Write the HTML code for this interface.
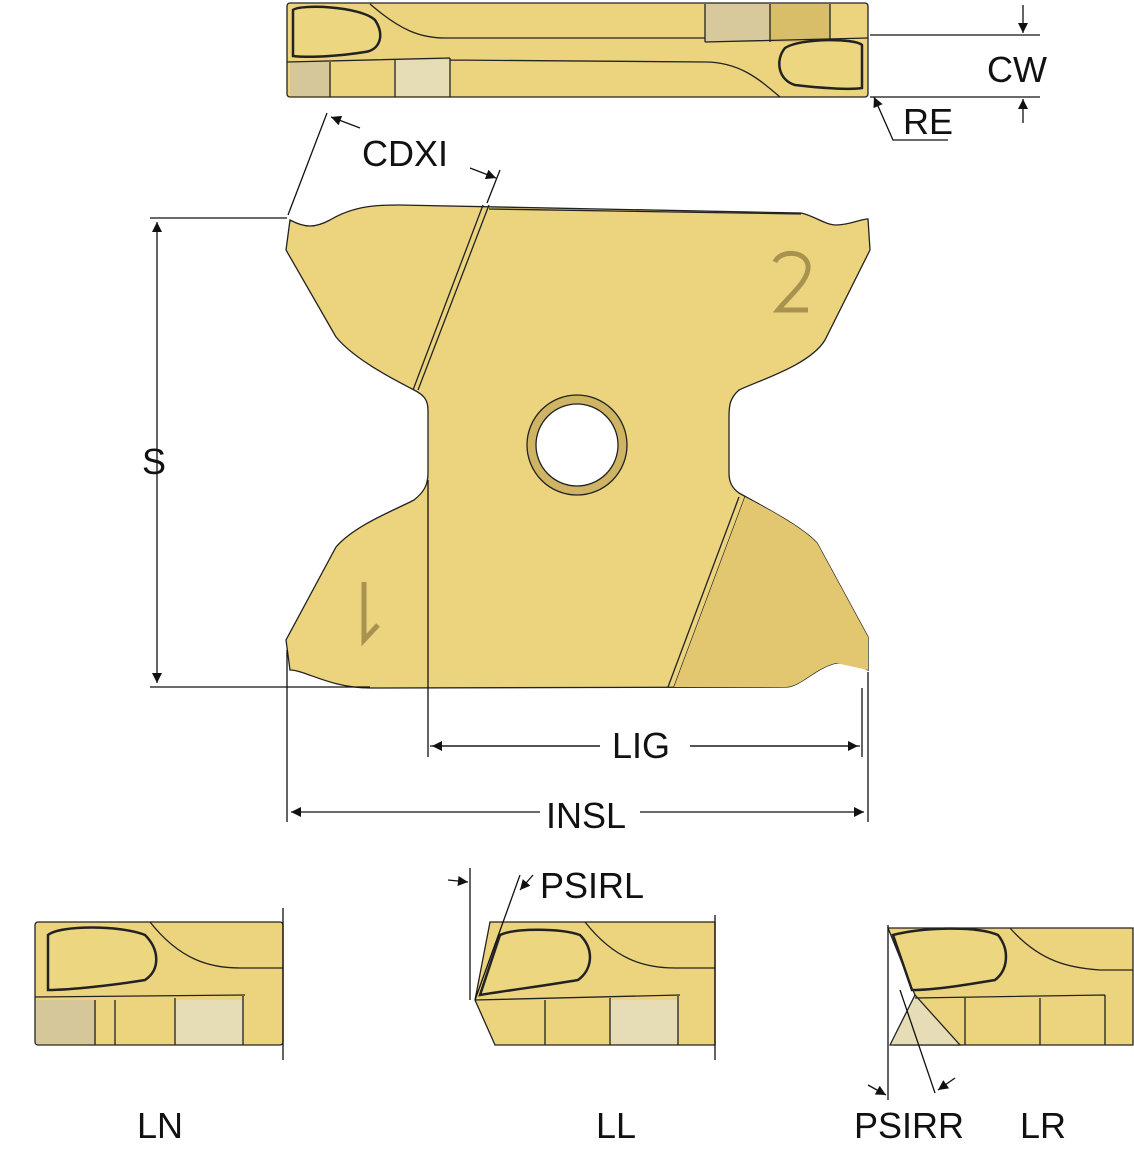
<!DOCTYPE html>
<html><head><meta charset="utf-8"><style>
html,body{margin:0;padding:0;background:#fff;width:1134px;height:1150px;overflow:hidden}
text{font-family:"Liberation Sans",sans-serif;font-size:36px;fill:#111}
</style></head><body>
<svg width="1134" height="1150" viewBox="0 0 1134 1150" xmlns="http://www.w3.org/2000/svg">
<defs>
<marker id="a" viewBox="0 0 10 10" refX="10" refY="5" markerWidth="14" markerHeight="10" orient="auto-start-reverse" markerUnits="userSpaceOnUse"><path d="M0,0 L10,5 L0,10z" fill="#111"/></marker>
</defs>
<g stroke="#222" stroke-width="1.3">
<!-- top view -->
<rect x="287" y="3" width="581" height="94" rx="3" fill="#ecd47e"/>
<rect x="290" y="62" width="40" height="34" fill="#d6c79a" stroke="none"/>
<rect x="395" y="60" width="55" height="36" fill="#e6dcb5" stroke="none"/>
<rect x="705" y="4" width="65" height="38" fill="#d8c99c" stroke="none"/>
<rect x="770" y="4" width="60" height="38" fill="#d9be6a" stroke="none"/>
<path d="M287,62 L450,58 M450,60 L705,62 M445,38 L705,38 M705,42 L868,38 M330,62 L330,97 M395,60 L395,97 M450,58 L450,97 M705,4 L705,42 M770,4 L770,42 M830,4 L830,42" fill="none"/>
<path d="M370,4 C400,30 420,38 445,38 M705,62 C740,62 760,80 780,97" fill="none"/>
<path d="M293,10 C300,4 360,6 375,20 C385,35 380,50 365,52 C340,56 310,58 293,56 Z" fill="#ecd680" stroke-width="2.5"/>
<path d="M862,45 C855,38 800,38 785,48 C775,60 778,80 795,85 C820,88 850,90 862,88 Z" fill="#ecd680" stroke-width="2.5"/>
<!-- main insert -->
<path d="M290,220 C305,228 315,228 330,220 C355,205 380,205 399,205 L801,213 C815,216 825,225 836,225 C850,225 860,219 868,219 L870,250 L825,340 C810,365 760,380 739,390 C730,398 729,405 729,417 L729,473 C729,482 732,488 739,493 C760,505 800,525 817,543 L868,637 L868,670 C855,663 845,663 836,663 C815,668 800,687 786,687 L370,688 C330,688 305,670 290,670 L286,640 L336,547 C355,525 395,510 414,500 C424,492 428,485 428,473 L428,410 C428,400 424,395 414,390 C395,380 355,360 336,337 L286,250 Z" fill="#ecd47e"/>
<path d="M489,205 L418,390 M483,205 L413,390 M739,497 L668,687 M745,497 L674,687 M489,209 L801,214" fill="none"/>
<path d="M745,497 L674,687 L786,687 C800,687 815,668 836,663 L868,670 L868,637 L817,543 C800,525 760,505 745,497Z" fill="#e2c770" stroke="none"/>
<circle cx="577" cy="445" r="50" fill="#ceb463"/>
<circle cx="577" cy="445" r="41" fill="#fff"/>
<path d="M775,262 C780,250 805,250 808,265 C810,280 790,295 778,310 L808,310" fill="none" stroke-width="5" stroke="#a89250"/>
<path d="M364,582 L364,640 L378,625" fill="none" stroke-width="5" stroke="#a89250"/>
<!-- bottom views -->
<g>
<rect x="35" y="922" width="248" height="123" rx="3" fill="#ecd47e"/>
<rect x="36" y="1000" width="60" height="44" fill="#d6c79a" stroke="none"/>
<rect x="175" y="1000" width="68" height="44" fill="#e6dcb5" stroke="none"/>
<path d="M35,997 L245,995 M95,1000 L95,1045 M115,1000 L115,1045 M175,998 L175,1045 M243,996 L243,1045 M150,922 C180,960 210,968 240,968 L283,968" fill="none"/>
<path d="M48,935 C60,925 120,925 145,935 C160,950 160,970 145,980 C115,985 70,990 48,990 Z" fill="#ecd680" stroke-width="2.5"/>
</g>
<g>
<path d="M490,922 L715,922 L715,1045 L495,1045 L475,1000 Z" fill="#ecd47e"/>
<rect x="610" y="1000" width="68" height="44" fill="#e6dcb5" stroke="none"/>
<path d="M475,1000 L680,995 M545,1000 L545,1045 M610,998 L610,1045 M678,996 L678,1045 M585,922 C615,960 645,968 675,968 L715,968" fill="none"/>
<path d="M500,935 C515,928 560,928 580,935 C595,950 592,970 578,980 C550,985 510,990 480,995 Z" fill="#ecd680" stroke-width="2.5"/>
</g>
<g>
<path d="M888,928 L1133,928 L1133,1045 L895,1045 L915,995 Z" fill="#ecd47e"/>
<path d="M890,1045 L915,995 L960,1045Z" fill="#e6dcb5"/>
<path d="M915,998 L1105,995 M965,998 L965,1045 M1040,998 L1040,1045 M1105,995 L1105,1045 M1010,928 C1040,962 1070,968 1100,970 L1133,970" fill="none"/>
<path d="M893,935 C920,928 975,925 998,935 C1010,950 1008,970 995,980 C965,985 935,990 912,990 Z" fill="#ecd680" stroke-width="2.5"/>
</g>
</g>
<g stroke="#111" stroke-width="1.3" fill="none">
<path d="M870,35 L1040,35 M870,97 L1040,97"/>
<path d="M1023,5 L1023,33" marker-end="url(#a)"/>
<path d="M1023,123 L1023,99" marker-end="url(#a)"/>
<path d="M948,140 L893,140 L874,97" marker-end="url(#a)"/>
<path d="M288,215 L327,113 M487,203 L500,170"/>
<path d="M360,128 L331,117" marker-end="url(#a)"/>
<path d="M470,168 L496,178" marker-end="url(#a)"/>
<path d="M150,218 L287,218 M150,687 L370,687"/>
<path d="M157,222 L157,683" marker-start="url(#a)" marker-end="url(#a)"/>
<path d="M287,650 L287,822 M868,672 L868,822 M862,688 L862,757 M428,480 L428,757"/>
<path d="M430,746 L600,746 M690,746 L860,746" />
<path d="M600,746 L432,746" marker-end="url(#a)"/>
<path d="M690,746 L858,746" marker-end="url(#a)"/>
<path d="M540,812 L291,812" marker-end="url(#a)"/>
<path d="M640,812 L864,812" marker-end="url(#a)"/>
<path d="M283,908 L283,1060 M715,915 L715,1060 M470,868 L470,1000 M475,1000 L520,875 M888,925 L888,1100 M935,1093 L900,990"/>
<path d="M448,880 L468,882" marker-end="url(#a)"/>
<path d="M533,875 L520,890" marker-end="url(#a)"/>
<path d="M868,1085 L886,1095" marker-end="url(#a)"/>
<path d="M955,1078 L938,1090" marker-end="url(#a)"/>
</g>
<text x="987" y="82">CW</text>
<text x="903" y="134">RE</text>
<text x="362" y="166">CDXI</text>
<text x="142" y="474">S</text>
<text x="612" y="758">LIG</text>
<text x="546" y="828">INSL</text>
<text x="540" y="898">PSIRL</text>
<text x="137" y="1138">LN</text>
<text x="596" y="1138">LL</text>
<text x="854" y="1138">PSIRR</text>
<text x="1020" y="1138">LR</text>
</svg>
</body></html>
